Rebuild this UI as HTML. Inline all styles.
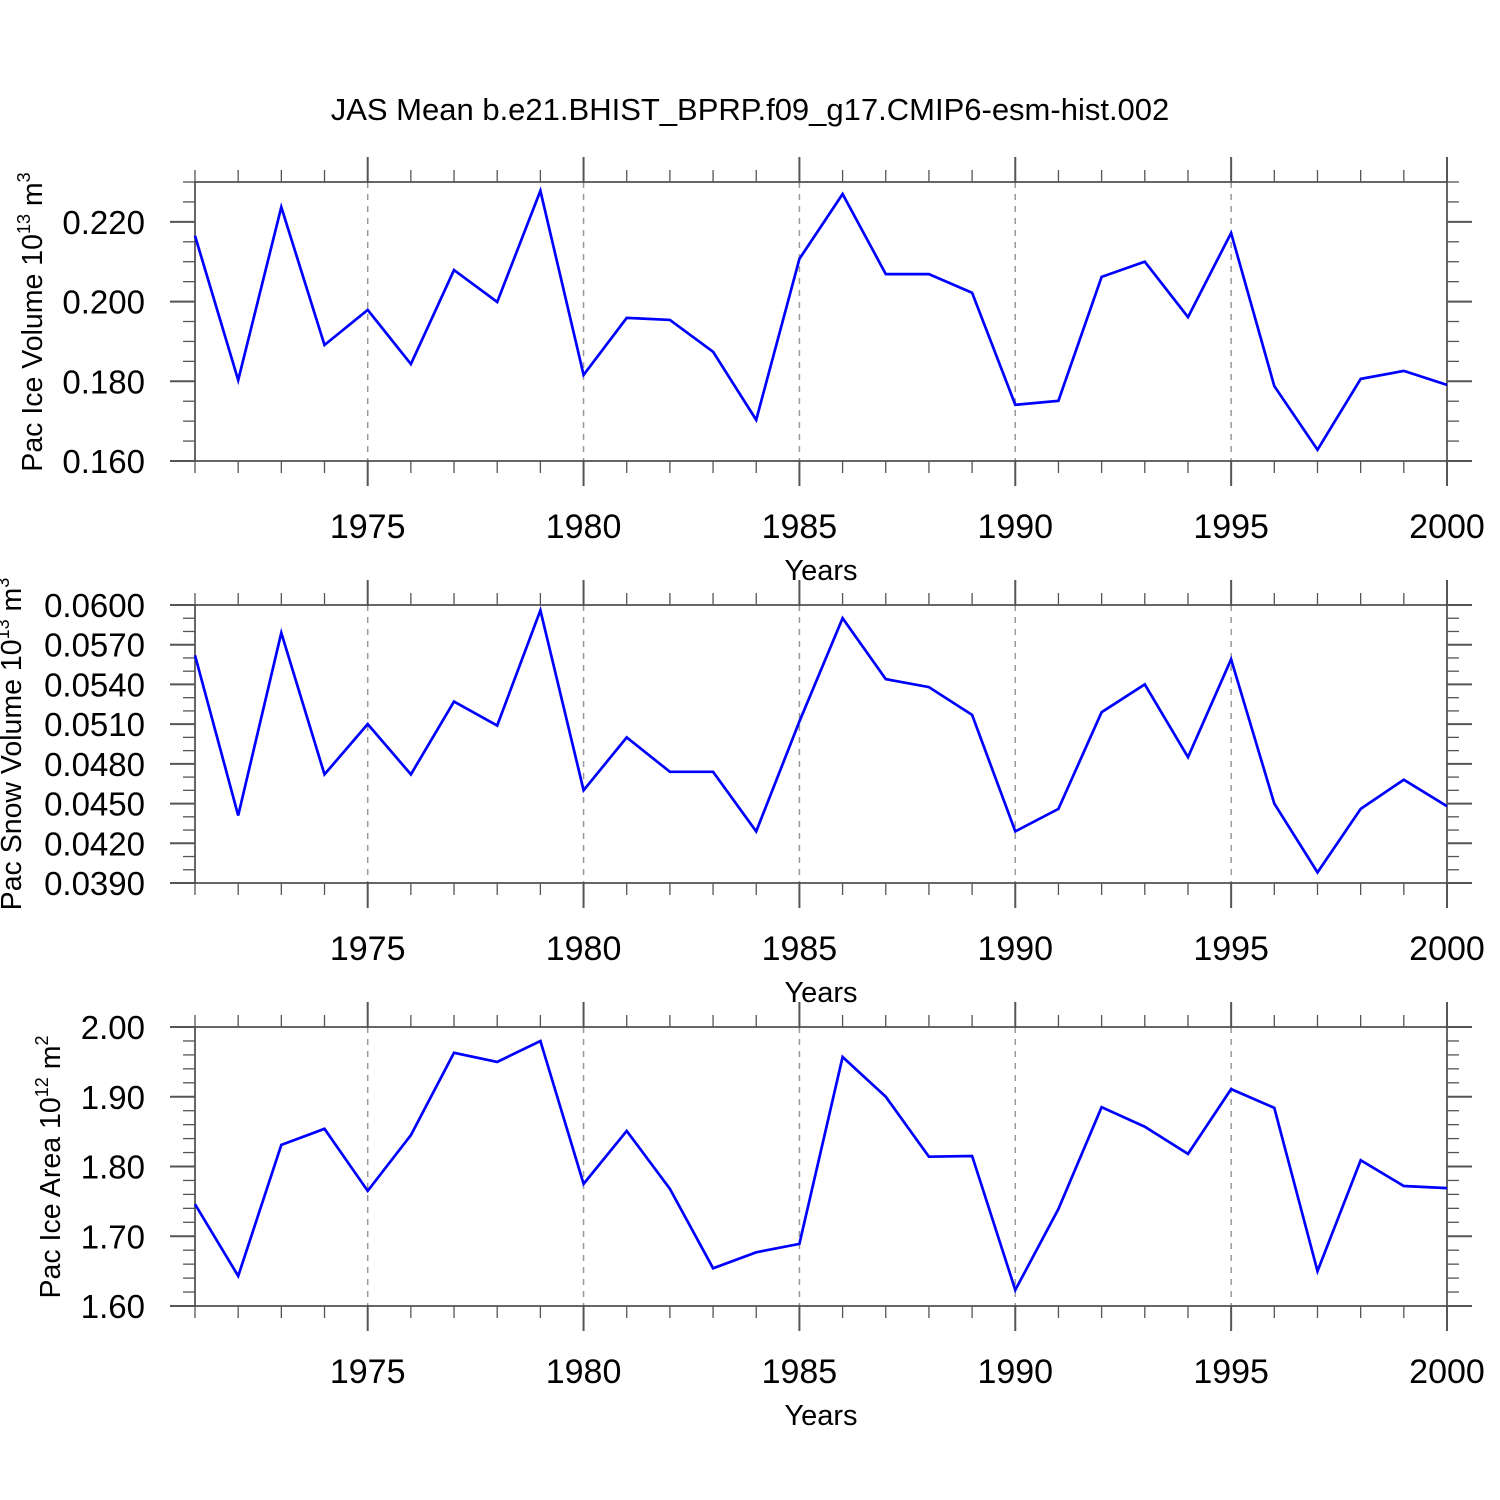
<!DOCTYPE html>
<html><head><meta charset="utf-8"><style>
html,body{margin:0;padding:0;background:#fff;}
svg{display:block;font-family:"Liberation Sans",Helvetica,Arial,sans-serif;}
</style></head><body>
<svg id="chart" width="1500" height="1500" xmlns="http://www.w3.org/2000/svg">
<text x="750" y="120" text-anchor="middle" font-size="31">JAS Mean b.e21.BHIST_BPRP.f09_g17.CMIP6-esm-hist.002</text>
</svg>
<script>
const years = [1971,1972,1973,1974,1975,1976,1977,1978,1979,1980,1981,1982,1983,1984,1985,1986,1987,1988,1989,1990,1991,1992,1993,1994,1995,1996,1997,1998,1999,2000];
const iceVolume = [0.2165,0.1803,0.2237,0.1891,0.1979,0.1843,0.2079,0.1999,0.2278,0.1816,0.1959,0.1954,0.1874,0.1703,0.2107,0.2270,0.2069,0.2069,0.2022,0.1741,0.1751,0.2062,0.2100,0.1961,0.2172,0.1788,0.1628,0.1806,0.1826,0.1791];
const snowVolume = [0.0562,0.0441,0.0579,0.0472,0.0510,0.0472,0.0527,0.0509,0.0596,0.0460,0.0500,0.0474,0.0474,0.0429,0.0512,0.0590,0.0544,0.0538,0.0517,0.0429,0.0446,0.0519,0.0540,0.0485,0.0559,0.0450,0.0398,0.0446,0.0468,0.0448];
const iceArea = [1.746,1.643,1.831,1.854,1.765,1.845,1.963,1.950,1.980,1.775,1.851,1.768,1.654,1.677,1.689,1.957,1.900,1.814,1.815,1.623,1.739,1.885,1.857,1.818,1.911,1.884,1.650,1.809,1.772,1.769];
const xTickLabels = [1975,1980,1985,1990,1995,2000];
const iceVolTicks = [0.160,0.180,0.200,0.220];
const snowTicks = [0.0390,0.0420,0.0450,0.0480,0.0510,0.0540,0.0570,0.0600];
const areaTicks = [1.60,1.70,1.80,1.90,2.00];

const NS="http://www.w3.org/2000/svg";
const svg=document.getElementById('chart');
function mk(tag,attrs,parent){const e=document.createElementNS(NS,tag);for(const k in attrs)e.setAttribute(k,attrs[k]);(parent||svg).appendChild(e);return e;}

const X0=195,X1=1447;
function xs(y){return X0+(y-1971)/(2000-1971)*(X1-X0);}

function panel(name,top,bot,ymin,ymax,minorStep,ticks,dec,data,titleParts,titleX,titleY){
  const g=mk('g',{});
  
  
  const ys=v=>bot-(v-ymin)/(ymax-ymin)*(bot-top);
  xTickLabels.forEach(yr=>{
    if(yr<2000){const l=mk('line',{x1:xs(yr),x2:xs(yr),y1:top,y2:bot,stroke:'#999','stroke-width':1.5,'stroke-dasharray':'6,6'},g);
    }
  });
  const r=mk('rect',{x:X0,y:top,width:X1-X0,height:bot-top,fill:'none',stroke:'#333','stroke-width':1.5},g);
  
  years.forEach(yr=>{
    const maj=yr%5===0;const L=maj?25:12;const x=xs(yr);
    mk('line',{x1:x,x2:x,y1:top,y2:top-L,stroke:'#555','stroke-width':maj?2:1.3},g);
    mk('line',{x1:x,x2:x,y1:bot,y2:bot+L,stroke:'#555','stroke-width':maj?2:1.3},g);
  });
  const n=Math.round((ymax-ymin)/minorStep);
  for(let i=0;i<=n;i++){
    const v=ymin+i*minorStep;const y=ys(v);
    const maj=ticks.some(t=>Math.abs(t-v)<minorStep/10);const L=maj?25:12;
    mk('line',{x1:X0,x2:X0-L,y1:y,y2:y,stroke:'#555','stroke-width':maj?2:1.3},g);
    mk('line',{x1:X1,x2:X1+L,y1:y,y2:y,stroke:'#555','stroke-width':maj?2:1.3},g);
  }
  ticks.forEach(t=>{
    const tx=mk('text',{x:145,y:ys(t)+12,'text-anchor':'end','font-size':33},g);
    tx.textContent=t.toFixed(dec);
    
  });
  xTickLabels.forEach(yr=>{
    const tx=mk('text',{x:xs(yr),y:bot+77,'text-anchor':'middle','font-size':34},g);
    tx.textContent=yr;
    
  });
  const xt=mk('text',{x:821,y:bot+119,'text-anchor':'middle','font-size':29},g);
  xt.textContent='Years';
  
  const yt=mk('text',{x:0,y:0,transform:`translate(${titleX},${titleY}) rotate(-90)`,'text-anchor':'middle','font-size':28.5},g);
  
  titleParts.forEach(p=>{const s=mk('tspan',{},yt);if(p[1]){s.setAttribute('font-size',18);s.setAttribute('dy',-12);}else if(p[2]){s.setAttribute('dy',12);}s.textContent=p[0];});
  const pts=data.map((v,i)=>xs(years[i]).toFixed(1)+','+ys(v).toFixed(1)).join(' ');
  const pl=mk('polyline',{points:pts,fill:'none',stroke:'#0000ff','stroke-width':2.7,'stroke-linejoin':'miter'},g);
  
}
panel('ice-volume',182,461,0.160,0.230,0.005,iceVolTicks,3,iceVolume,[['Pac Ice Volume 10'],['13',1],[' m',0,1],['3',1]],42,322);
panel('snow-volume',605,883,0.0390,0.0600,0.001,snowTicks,4,snowVolume,[['Pac Snow Volume 10'],['13',1],[' m',0,1],['3',1]],21,744);
panel('ice-area',1027,1306,1.60,2.00,0.02,areaTicks,2,iceArea,[['Pac Ice Area 10'],['12',1],[' m',0,1],['2',1]],60,1167);
</script>
</body></html>
